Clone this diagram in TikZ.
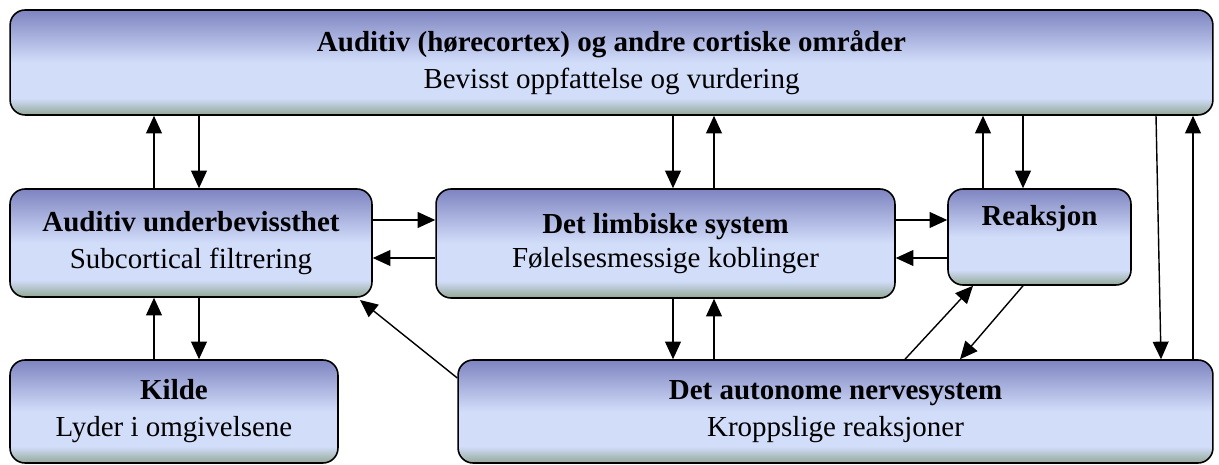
\documentclass[tikz,border=0pt]{standalone}
\usepackage{fontspec}
\setmainfont{Liberation Serif}
\usepackage{xcolor}
\usepackage{tikz}
\usetikzlibrary{shapes,arrows.meta,positioning}

\definecolor{boxtop}{RGB}{126,132,192}
\definecolor{boxmid}{RGB}{210,221,250}
\definecolor{boxbot}{RGB}{146,168,150}
\pgfdeclareverticalshading{boxshade}{100bp}{color(0bp)=(boxbot); color(25bp)=(boxbot); color(33bp)=(boxmid); color(50bp)=(boxmid); color(75bp)=(boxtop); color(100bp)=(boxtop)}

\tikzset{
    blokk/.style={
        draw,
        line width=0.9pt,
        rounded corners=0.3cm,
        shade,
        shading=boxshade,
        align=center,
        inner sep=0pt,
        font=\fontsize{16.5}{21}\selectfont
    },
    pil/.style={
        -{Triangle[length=10pt,width=9pt]},
        line width=0.8pt
    }
}

\begin{document}
\begin{tikzpicture}[x=0.02cm,y=-0.02cm]
                \useasboundingbox (0,0) rectangle (1219,465);

                % boxes
                \node[blokk, minimum width=24.06cm, minimum height=2.1cm] (hore) at (611.5,62.5)
                    {\textbf{Auditiv (hørecortex) og andre cortiske områder}\\Bevisst oppfattelse og vurdering};
                \node[blokk, minimum width=7.24cm, minimum height=2.16cm] (under) at (191,243)
                    {\textbf{Auditiv underbevissthet}\\Subcortical filtrering};
                \node[blokk, minimum width=6.56cm, minimum height=2.06cm] (kilde) at (174,411.5)
                    {\textbf{Kilde}\\Lyder i omgivelsene};
                \node[blokk, minimum width=9.18cm, minimum height=2.18cm] (limb) at (665.5,243.5)
                    {\textbf{Det limbiske system}\\[-2pt]Følelsesmessige koblinger};
                \node[blokk, minimum width=3.66cm, minimum height=1.92cm] (reak) at (1039.5,237)
                    {\textbf{Reaksjon}\\[4pt]\mbox{}};
                \node[blokk, minimum width=15.1cm, minimum height=2.06cm] (auto) at (835.5,411.5)
                    {\textbf{Det autonome nervesystem}\\Kroppslige reaksjoner};

                % columns and rows for the arrows
                \coordinate (ka) at (154,0);
                \coordinate (kb) at (199,0);
                \coordinate (kc) at (673,0);
                \coordinate (kd) at (714,0);
                \coordinate (ke) at (983,0);
                \coordinate (kf) at (1023,0);
                \coordinate (kg) at (1156,0);
                \coordinate (kh) at (1161,0);
                \coordinate (ki) at (1193,0);
                \coordinate (kj) at (905,0);
                \coordinate (kk) at (973,0);
                \coordinate (kl) at (960,0);
                \coordinate (ra) at (0,220);
                \coordinate (rb) at (0,258);
                \coordinate (rc) at (0,378);
                \coordinate (tip) at (360,300);

                % arrows
                \draw[pil] (under.north -| ka) -- (hore.south -| ka);
                \draw[pil] (hore.south -| kb) -- (under.north -| kb);
                \draw[pil] (kilde.north -| ka) -- (under.south -| ka);
                \draw[pil] (under.south -| kb) -- (kilde.north -| kb);

                \draw[pil] (under.east |- ra) -- (limb.west |- ra);
                \draw[pil] (limb.west |- rb) -- (under.east |- rb);
                \draw[pil] (limb.east |- ra) -- (reak.west |- ra);
                \draw[pil] (reak.west |- rb) -- (limb.east |- rb);

                \draw[pil] (hore.south -| kc) -- (limb.north -| kc);
                \draw[pil] (limb.north -| kd) -- (hore.south -| kd);
                \draw[pil] (limb.south -| kc) -- (auto.north -| kc);
                \draw[pil] (auto.north -| kd) -- (limb.south -| kd);

                \draw[pil] (reak.north -| ke) -- (hore.south -| ke);
                \draw[pil] (hore.south -| kf) -- (reak.north -| kf);

                \draw[pil] (hore.south -| kg) -- (auto.north -| kh);
                \draw[pil] (auto.north -| ki) -- (hore.south -| ki);

                \draw[pil] (auto.north -| kj) -- (reak.south -| kk);
                \draw[pil] (reak.south -| kf) -- (auto.north -| kl);

                \draw[pil] (auto.west |- rc) -- (tip);

\end{tikzpicture}
\end{document}
